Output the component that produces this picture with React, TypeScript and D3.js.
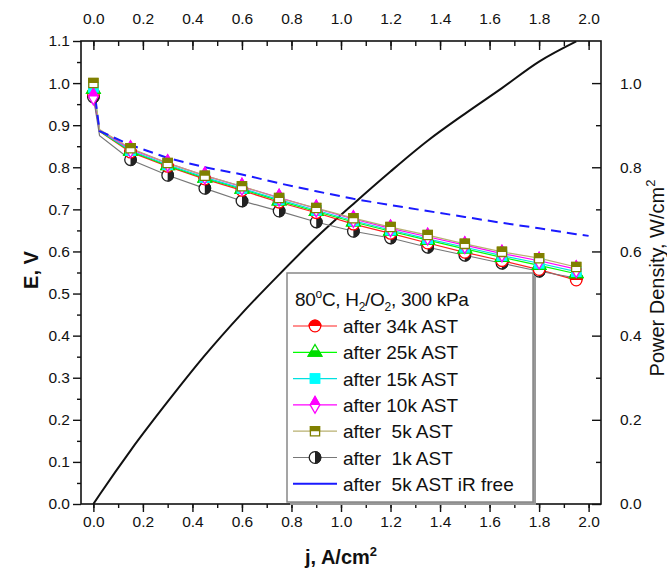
import React, { useEffect, useRef } from 'react';
import * as d3 from 'd3';

// current density, A/cm2 (polarization points)
const jPoints = [0, 0.025, 0.15, 0.3, 0.45, 0.6, 0.75, 0.9, 1.05, 1.2, 1.35, 1.5, 1.65, 1.8, 1.95];
const after34k = [0.975, 0.885, 0.836, 0.802, 0.772, 0.745, 0.717, 0.692, 0.665, 0.643, 0.62, 0.598, 0.578, 0.557, 0.532];
const after25k = [0.985, 0.886, 0.838, 0.804, 0.774, 0.748, 0.72, 0.695, 0.67, 0.648, 0.627, 0.606, 0.586, 0.567, 0.547];
const after15k = [0.99, 0.887, 0.84, 0.806, 0.776, 0.75, 0.723, 0.698, 0.673, 0.651, 0.63, 0.61, 0.59, 0.572, 0.552];
const after10k = [0.968, 0.888, 0.843, 0.81, 0.78, 0.754, 0.728, 0.702, 0.677, 0.655, 0.635, 0.615, 0.595, 0.578, 0.558];
const after5k = [1.0, 0.89, 0.845, 0.81, 0.78, 0.755, 0.727, 0.703, 0.679, 0.658, 0.639, 0.618, 0.599, 0.584, 0.563];
const after1k = [0.967, 0.875, 0.818, 0.781, 0.75, 0.72, 0.696, 0.67, 0.648, 0.632, 0.61, 0.591, 0.572, 0.553, 0.537];

const jIrFree = [0, 0.025, 0.15, 0.3, 0.45, 0.6, 0.75, 0.9, 1.05, 1.2, 1.35, 1.5, 1.65, 1.8, 1.95, 2.0];
const irFree5k = [1.0, 0.886, 0.853, 0.822, 0.8, 0.783, 0.762, 0.743, 0.725, 0.71, 0.696, 0.682, 0.668, 0.655, 0.641, 0.637];

// power density, W/cm2 (on jPoints)
const powerDensity = [0, 0.022, 0.127, 0.243, 0.353, 0.453, 0.545, 0.633, 0.713, 0.79, 0.863, 0.927, 0.988, 1.051, 1.099];

const legendLabels = ['after 34k AST', 'after 25k AST', 'after 15k AST', 'after 10k AST', 'after  5k AST', 'after  1k AST', 'after  5k AST iR free'];
const eTicks = [0, 0.1, 0.2, 0.3, 0.4, 0.5, 0.6, 0.7, 0.8, 0.9, 1.0, 1.1];
const jTicks = [0, 0.2, 0.4, 0.6, 0.8, 1.0, 1.2, 1.4, 1.6, 1.8, 2.0];
const pTicks = [0, 0.2, 0.4, 0.6, 0.8, 1.0];

const W = 667;
const H = 569;
const m = { left: 81, top: 41, right: 66, bottom: 65 };
const FONT = '"Liberation Sans", Arial, sans-serif';

const x = d3.scaleLinear().domain([-0.05, 2.05]).range([m.left, W - m.right]);
const y = d3.scaleLinear().domain([0, 1.1]).range([H - m.bottom, m.top]);
const yP = d3.scaleLinear().domain([0, 1.1]).range([H - m.bottom, m.top]);

const series = [
  { name: legendLabels[0], values: after34k, color: '#ff0000', line: '#ff2020', shape: d3.symbolCircle, size: 105, half: 'top' },
  { name: legendLabels[1], values: after25k, color: '#00dd00', line: '#00ff00', shape: d3.symbolTriangle, size: 80, half: 'bottom' },
  { name: legendLabels[2], values: after15k, color: '#00ffff', line: '#00e0e0', shape: d3.symbolSquare, size: 85, half: 'full' },
  { name: legendLabels[3], values: after10k, color: '#ff00ff', line: '#ff00ff', shape: d3.symbolDiamond, size: 80, half: 'top' },
  { name: legendLabels[4], values: after5k, color: '#808000', line: '#b8b070', shape: d3.symbolSquare, size: 85, half: 'top' },
  { name: legendLabels[5], values: after1k, color: '#222222', line: '#777777', shape: d3.symbolCircle, size: 105, half: 'right' },
];

const Marker = ({ s, cx, cy }: any) => {
  const d = d3.symbol().type(s.shape).size(s.size)() as string;
  const clip = s.half === 'full' ? undefined : `url(#half-${s.half})`;
  return (
    <g transform={`translate(${cx},${cy})`}>
      <path d={d} fill="#fff" stroke={s.color} strokeWidth={1.3} />
      <path d={d} fill={s.color} clipPath={clip} stroke={s.color} strokeWidth={1.3} />
    </g>
  );
};

const Chart = () => {
  const ref = useRef<SVGSVGElement>(null);

  useEffect(() => {
    const svg = d3.select(ref.current);
    const style = (g: any) => {
      g.select('.domain').remove();
      g.selectAll('line').attr('stroke', '#111').attr('stroke-width', 1.4);
      g.selectAll('text').attr('font-family', FONT).attr('font-size', 15.5).attr('fill', '#111');
    };
    const minorJ = d3.range(0, 2.05, 0.1);
    const minorE = d3.range(0.05, 1.1, 0.1);
    const minorP = d3.range(0.1, 1.1, 0.2);

    svg.select('#left').attr('transform', `translate(${m.left},0)`)
      .call(d3.axisLeft(y).tickValues(eTicks).tickSize(8).tickPadding(3).tickFormat(d3.format('.1f')) as any)
      .call(style);
    svg.select('#leftMinor').attr('transform', `translate(${m.left},0)`)
      .call(d3.axisLeft(y).tickValues(minorE).tickSize(4).tickFormat(() => '') as any)
      .call(style);
    svg.select('#bottom').attr('transform', `translate(0,${H - m.bottom})`)
      .call(d3.axisBottom(x).tickValues(jTicks).tickSize(8).tickPadding(4).tickFormat(d3.format('.1f')) as any)
      .call(style);
    svg.select('#bottomMinor').attr('transform', `translate(0,${H - m.bottom})`)
      .call(d3.axisBottom(x).tickValues(minorJ).tickSize(4).tickFormat(() => '') as any)
      .call(style);
    svg.select('#top').attr('transform', `translate(0,${m.top})`)
      .call(d3.axisTop(x).tickValues(jTicks).tickSizeInner(-9).tickSizeOuter(0).tickPadding(17).tickFormat(d3.format('.1f')) as any)
      .call(style);
    svg.select('#topMinor').attr('transform', `translate(0,${m.top})`)
      .call(d3.axisTop(x).tickValues(minorJ).tickSizeInner(-5).tickSizeOuter(0).tickFormat(() => '') as any)
      .call(style);
    svg.select('#right').attr('transform', `translate(${W - m.right},0)`)
      .call(d3.axisRight(yP).tickValues(pTicks).tickSizeInner(-9).tickSizeOuter(0).tickPadding(19).tickFormat(d3.format('.1f')) as any)
      .call(style);
    svg.select('#rightMinor').attr('transform', `translate(${W - m.right},0)`)
      .call(d3.axisRight(yP).tickValues(minorP).tickSizeInner(-5).tickSizeOuter(0).tickFormat(() => '') as any)
      .call(style);
  }, []);

  const line = (xs: number[], ys: number[], sc: any, curve: any = d3.curveLinear) =>
    d3.line<number>().curve(curve).x((_, i) => x(xs[i])).y((v) => sc(v))(ys) as string;

  const legX = 287;
  const legY = 273;
  const legW = 246;
  const legH = 229;
  const rowY = (i: number) => legY + 53 + i * 26.3;

  return (
    <svg ref={ref} width={W} height={H} style={{ position: 'absolute', left: 0, top: 0, background: '#fff' }}>
      <defs>
        <clipPath id="half-top" clipPathUnits="objectBoundingBox"><rect x={-0.1} y={-0.1} width={1.2} height={0.6} /></clipPath>
        <clipPath id="half-bottom" clipPathUnits="objectBoundingBox"><rect x={-0.1} y={0.5} width={1.2} height={0.6} /></clipPath>
        <clipPath id="half-right" clipPathUnits="objectBoundingBox"><rect x={0.5} y={-0.1} width={0.6} height={1.2} /></clipPath>
        <clipPath id="plot"><rect x={m.left} y={m.top} width={W - m.left - m.right} height={H - m.top - m.bottom} /></clipPath>
      </defs>

      <g clipPath="url(#plot)">
        <path d={line(jPoints, powerDensity, yP, d3.curveMonotoneX)} fill="none" stroke="#111" strokeWidth={2} />
        {series.map((s) => (
          <path key={s.name} d={line(jPoints, s.values, y)} fill="none" stroke={s.line} strokeWidth={1.2} />
        ))}
        <path d={line(jIrFree, irFree5k, y)} fill="none" stroke="#1a1aff" strokeWidth={2} strokeDasharray="10,6" />
        {[series[5], ...series.slice(0, 5)].map((s) =>
          s.values.map((v, i) => (i === 1 ? null : <Marker key={s.name + i} s={s} cx={x(jPoints[i])} cy={y(v)} />))
        )}
      </g>

      <rect x={m.left} y={m.top} width={W - m.left - m.right} height={H - m.top - m.bottom} fill="none" stroke="#111" strokeWidth={1.6} />
      <g id="left" /><g id="leftMinor" />
      <g id="bottom" /><g id="bottomMinor" />
      <g id="top" /><g id="topMinor" />
      <g id="right" /><g id="rightMinor" />

      <g fontFamily={FONT} fontSize={19} fill="#111">
        <rect x={legX + 3} y={legY + 3} width={legW} height={legH} fill="#999" />
        <rect x={legX} y={legY} width={legW} height={legH} fill="#fff" stroke="#888" strokeWidth={1.5} />
        <text x={legX + 8} y={legY + 33} letterSpacing={-0.3}>
          80<tspan fontSize={12} dy={-8}>o</tspan><tspan dy={8}>C, H</tspan>
          <tspan fontSize={12} dy={5}>2</tspan><tspan dy={-5}>/O</tspan>
          <tspan fontSize={12} dy={5}>2</tspan><tspan dy={-5}>, 300 kPa</tspan>
        </text>
        {series.map((s, i) => (
          <g key={s.name}>
            <line x1={legX + 6} x2={legX + 50} y1={rowY(i)} y2={rowY(i)} stroke={s.line} strokeWidth={1.2} />
            <Marker s={s} cx={legX + 28} cy={rowY(i)} />
            <text x={legX + 56} y={rowY(i) + 7} style={{ whiteSpace: 'pre' }}>{s.name}</text>
          </g>
        ))}
        <line x1={legX + 6} x2={legX + 50} y1={rowY(6)} y2={rowY(6)} stroke="#1a1aff" strokeWidth={2} />
        <text x={legX + 56} y={rowY(6) + 7} style={{ whiteSpace: 'pre' }}>{legendLabels[6]}</text>
      </g>

      <text transform="translate(38,270) rotate(-90)" textAnchor="middle" fontFamily={FONT} fontWeight="bold" fontSize={20} fill="#111">E, V</text>
      <text x={341} y={564} textAnchor="middle" fontFamily={FONT} fontWeight="bold" fontSize={20} fill="#111">
        j, A/cm<tspan fontSize={13} dy={-8}>2</tspan>
      </text>
      <text transform="translate(664,278) rotate(-90)" textAnchor="middle" fontFamily={FONT} fontSize={20} fill="#111">
        Power Density, W/cm<tspan fontSize={13} dy={-9}>2</tspan>
      </text>
    </svg>
  );
};

export default function App() {
  return <Chart />;
}
